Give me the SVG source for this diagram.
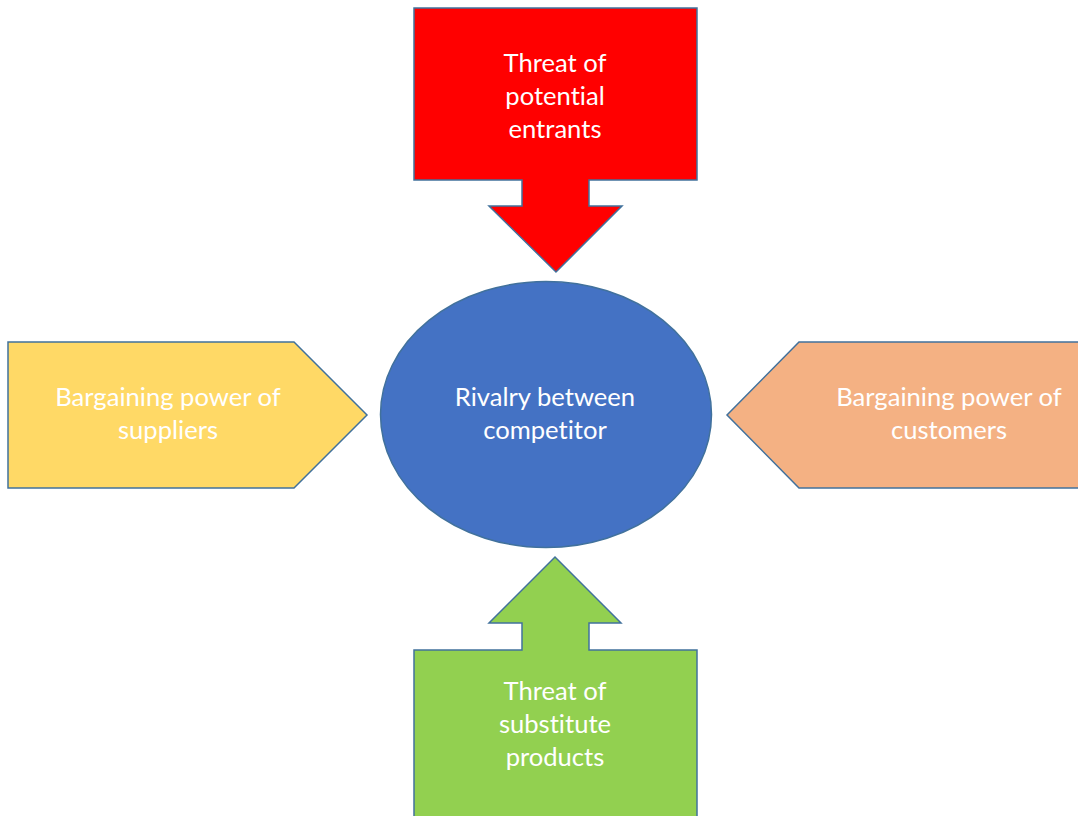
<svg xmlns="http://www.w3.org/2000/svg" width="1078" height="816" viewBox="0 0 1078 816">
  <style>
    .shape { stroke: #41719C; stroke-width: 1.5; stroke-linejoin: miter; }
    .label { font-family: Lato, "Open Sans", "Liberation Sans", sans-serif; font-size: 25.6px; fill: #ffffff; text-anchor: middle; font-variant-ligatures: none; }
  </style>
  <rect width="1078" height="816" fill="#ffffff"/>

  <!-- top: downward arrow callout -->
  <g id="potential-entrants">
    <path class="shape" fill="#FF0000" d="M414,8 H697 V180 H589 V206 H622 L556,272 L489,206 H522 V180 H414 Z"/>
    <text class="label" x="555" y="72">Threat of</text>
    <text class="label" x="555" y="105">potential</text>
    <text class="label" x="555" y="138">entrants</text>
  </g>

  <!-- left: right-pointing pentagon -->
  <g id="suppliers">
    <path class="shape" fill="#FFD966" d="M8,342 H294 L367,415 L294,488 H8 Z"/>
    <text class="label" x="168" y="406">Bargaining power of</text>
    <text class="label" x="168" y="439">suppliers</text>
  </g>

  <!-- right: left-pointing pentagon -->
  <g id="customers">
    <path class="shape" fill="#F4B183" d="M1080,342 H799 L727,415 L799,488 H1080 Z"/>
    <text class="label" x="949" y="406">Bargaining power of</text>
    <text class="label" x="949" y="439">customers</text>
  </g>

  <!-- bottom: upward arrow callout -->
  <g id="substitute-products">
    <path class="shape" fill="#92D050" d="M414,818 V650 H522 V623 H489 L555,557 L621,623 H589 V650 H697 V818 Z"/>
    <text class="label" x="555" y="700">Threat of</text>
    <text class="label" x="555" y="733">substitute</text>
    <text class="label" x="555" y="766">products</text>
  </g>

  <!-- centre -->
  <g id="rivalry">
    <ellipse class="shape" fill="#4472C4" cx="546" cy="414.5" rx="165.5" ry="133"/>
    <text class="label" x="545" y="406">Rivalry between</text>
    <text class="label" x="545" y="439">competitor</text>
  </g>

  <g id="connectors"/>
</svg>
